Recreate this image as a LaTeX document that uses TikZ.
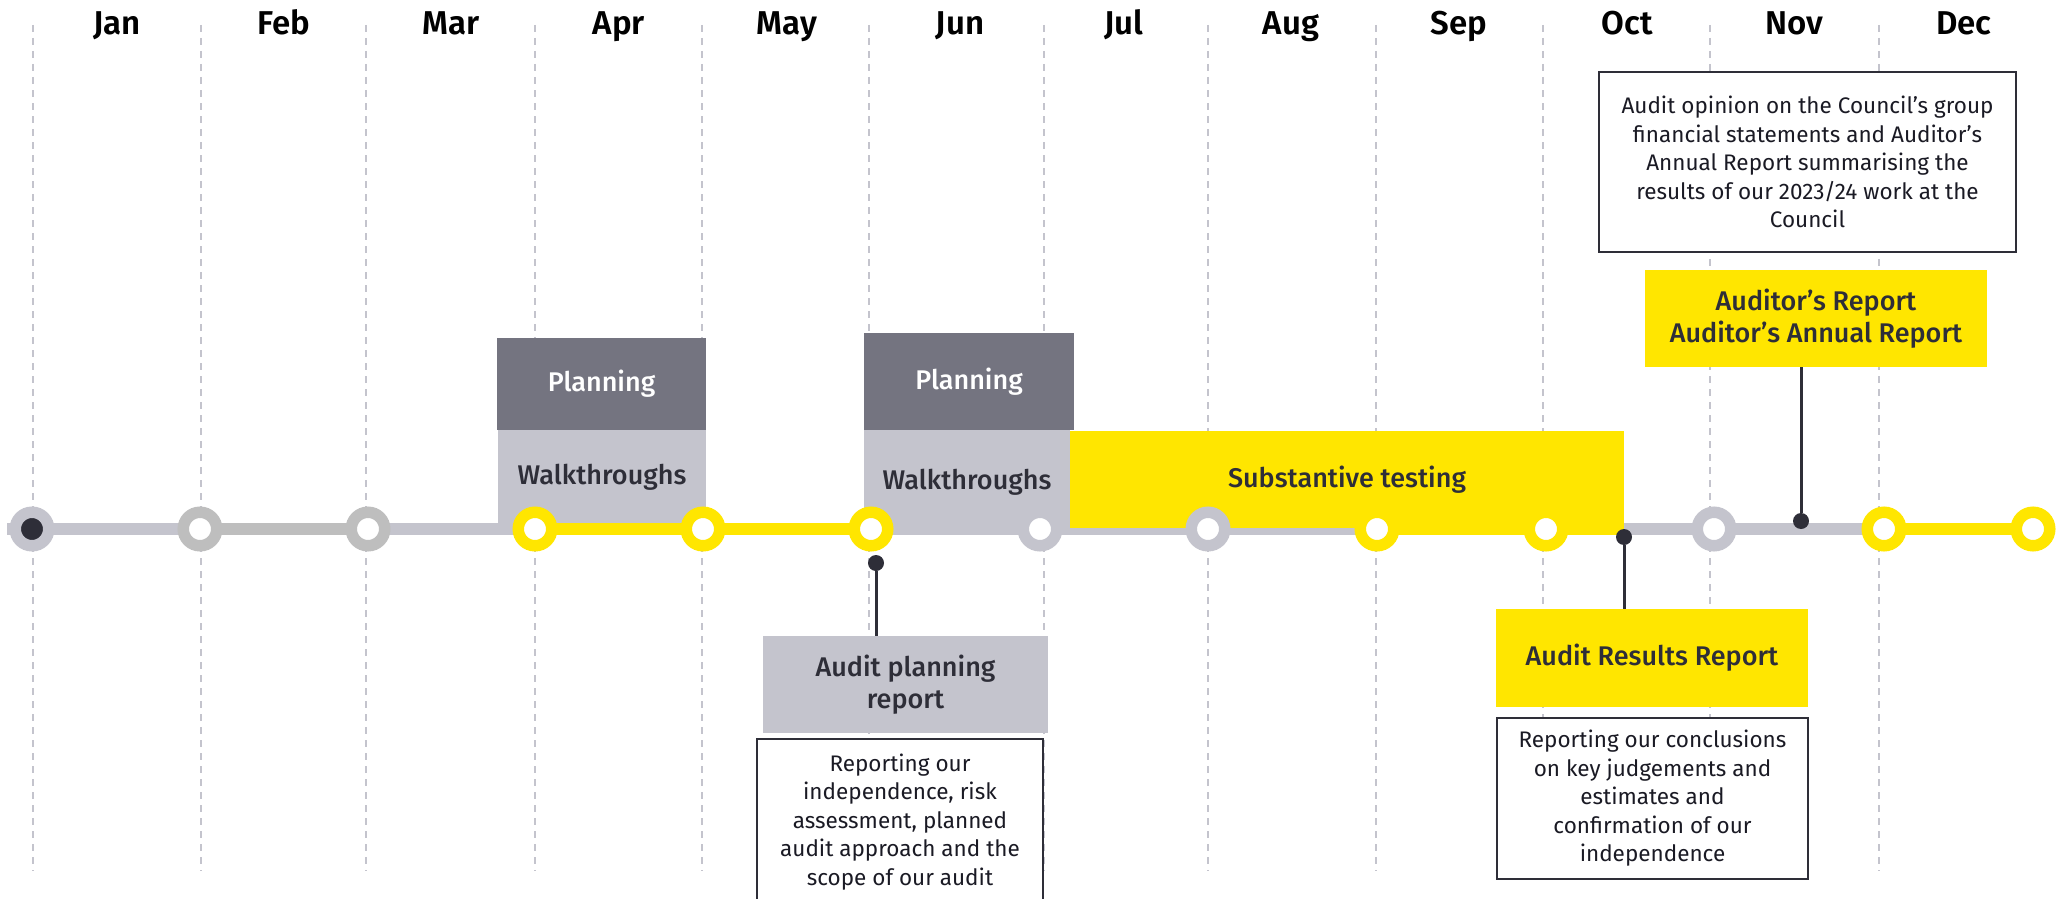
\documentclass[tikz,border=0pt]{standalone}
\usepackage{fontspec}
\setmainfont{Fira Sans}
\newfontfamily\medfont{Fira Sans Medium}
\newfontfamily\semifont{Fira Sans SemiBold}
\usetikzlibrary{positioning}

\definecolor{eyyellow}{HTML}{FFE600}
\definecolor{eydark}{HTML}{2E2E38}
\definecolor{eymid}{HTML}{747480}
\definecolor{eylight}{HTML}{C4C4CD}
\definecolor{eygrey}{HTML}{BEBEBE}
\definecolor{notetext}{HTML}{1A1A24}

\begin{document}
\begin{tikzpicture}[x=1pt,y=-1pt,
    month/.style={anchor=base,font=\semifont\fontsize{33}{38}\selectfont,text=black},
    guide/.style={draw=eylight,line width=1.3pt,dash pattern=on 7pt off 6pt},
    band/.style={inner sep=0pt,align=center,text=eydark,
      font=\medfont\fontsize{27}{32}\selectfont},
    darkband/.style={band,fill=eymid,text=white},
    lightband/.style={band,fill=eylight},
    yellowband/.style={band,fill=eyyellow},
    note/.style={draw=eydark,line width=1.5pt,fill=white,inner sep=0pt,align=center,
      text=notetext,font=\fontsize{22.5}{28.5}\selectfont},
    seg/.style={draw=#1,line width=12pt},
    ring/.style={circle,inner sep=0pt,minimum size=33.5pt,line width=11.5pt,draw=#1,fill=white},
    pin/.style={circle,inner sep=0pt,minimum size=16pt,fill=eydark},
    stem/.style={draw=eydark,line width=3pt}]

        \useasboundingbox (0,0) rectangle (2064,899);

        % months
        \node[month] (jan) at (117,35) {Jan};
        \node[month] (feb) at (284,35) {Feb};
        \node[month] (mar) at (451,35) {Mar};
        \node[month] (apr) at (619,35) {Apr};
        \node[month] (may) at (787,35) {May};
        \node[month] (jun) at (960,35) {Jun};
        \node[month] (jul) at (1124,35) {Jul};
        \node[month] (aug) at (1291,35) {Aug};
        \node[month] (sep) at (1459,35) {Sep};
        \node[month] (oct) at (1627,35) {Oct};
        \node[month] (nov) at (1794,35) {Nov};
        \node[month] (dec) at (1964,35) {Dec};

        \draw[guide] (33,25) -- (33,871);
        \draw[guide] (201,25) -- (201,871);
        \draw[guide] (366,25) -- (366,871);
        \draw[guide] (535,25) -- (535,871);
        \draw[guide] (702,25) -- (702,871);
        \draw[guide] (869,25) -- (869,871);
        \draw[guide] (1044,25) -- (1044,871);
        \draw[guide] (1208,25) -- (1208,871);
        \draw[guide] (1376,25) -- (1376,871);
        \draw[guide] (1543,25) -- (1543,871);
        \draw[guide] (1710,25) -- (1710,871);
        \draw[guide] (1879,25) -- (1879,871);

        % phases
        \node[darkband,minimum width=209pt,minimum height=92pt] (plan1) at (601.5,384) {Planning};
        \node[lightband,minimum width=208pt,minimum height=94pt] (walk1) at (602,477) {Walkthroughs};
        \node[darkband,minimum width=210pt,minimum height=97pt] (plan2) at (969,381.5) {Planning};
        \node[lightband,minimum width=206pt,minimum height=105pt] (walk2) at (967,482.5) {Walkthroughs};

        % timeline
        \coordinate (t0) at (32,529);
        \coordinate (t1) at (200,529);
        \coordinate (t2) at (368,529);
        \coordinate (t3) at (535,529);
        \coordinate (t4) at (703,529);
        \coordinate (t5) at (871,529);
        \coordinate (t6) at (1040,529);
        \coordinate (t7) at (1208,529);
        \coordinate (t8) at (1377,529);
        \coordinate (t9) at (1546,529);
        \coordinate (t10) at (1714,529);
        \coordinate (t11) at (1884,529);
        \coordinate (t12) at (2033,529);
        \coordinate (tstart) at (7,529);
        \coordinate (yend) at (1624,529);

        \draw[seg=eylight] (tstart) -- (t0) -- (t1);
        \draw[seg=eygrey] (t1) -- (t2);
        \draw[seg=eylight] (t2) -- (t3);
        \draw[seg=eyyellow] (t3) -- (t4) -- (t5);
        \draw[seg=eylight] (t5) -- (t6) -- (t7) -- (t8);
        \draw[seg=eyyellow] (t8) -- (t9) -- (yend);
        \draw[seg=eylight] (yend) -- (t10) -- (t11);
        \draw[seg=eyyellow] (t11) -- (t12);

        \node[yellowband,minimum width=554pt,minimum height=97pt] (subst) at (1347,479.5) {Substantive testing};

        \node[ring=eylight,fill=eydark] (m0) at (t0) {};
        \node[ring=eygrey] (m1) at (t1) {};
        \node[ring=eygrey] (m2) at (t2) {};
        \node[ring=eyyellow] (m3) at (t3) {};
        \node[ring=eyyellow] (m4) at (t4) {};
        \node[ring=eyyellow] (m5) at (t5) {};
        \node[ring=eylight] (m6) at (t6) {};
        \node[ring=eylight] (m7) at (t7) {};
        \node[ring=eyyellow] (m8) at (t8) {};
        \node[ring=eyyellow] (m9) at (t9) {};
        \node[ring=eylight] (m10) at (t10) {};
        \node[ring=eyyellow] (m11) at (t11) {};
        \node[ring=eyyellow] (m12) at (t12) {};

        % reports
        \node[pin] (pin1) at (876,563) {};
        \node[pin] (pin2) at (1624,537) {};
        \node[pin] (pin3) at (1801,521) {};

        \node[lightband,minimum width=285pt,minimum height=97pt] (apr) at (905.5,684.5)
        {Audit planning\\report};
        \node[note,minimum width=286pt,minimum height=166pt] (aprnote) at (900,822)
        {Reporting our\\independence, risk\\assessment, planned\\audit approach and the\\scope of our audit};

        \node[yellowband,minimum width=312pt,minimum height=98pt] (arr) at (1652,658)
        {Audit Results Report};
        \node[note,minimum width=311pt,minimum height=161pt] (arrnote) at (1652.5,798.5)
        {Reporting our conclusions\\on key judgements and\\estimates and\\confirmation of our\\independence};

        \node[yellowband,minimum width=342pt,minimum height=97pt] (aar) at (1816,318.5)
        {Auditor’s Report\\Auditor’s Annual Report};
        \node[note,minimum width=417pt,minimum height=180pt] (aarnote) at (1807.5,162)
        {Audit opinion on the Council’s group\\financial statements and Auditor’s\\Annual Report summarising the\\results of our 2023/24 work at the\\Council};

        \draw[stem] (pin1) -- (pin1 |- apr.north);
        \draw[stem] (pin2) -- (pin2 |- arr.north);
        \draw[stem] (pin3) -- (pin3 |- aar.south);
      \end{tikzpicture}
\end{document}
